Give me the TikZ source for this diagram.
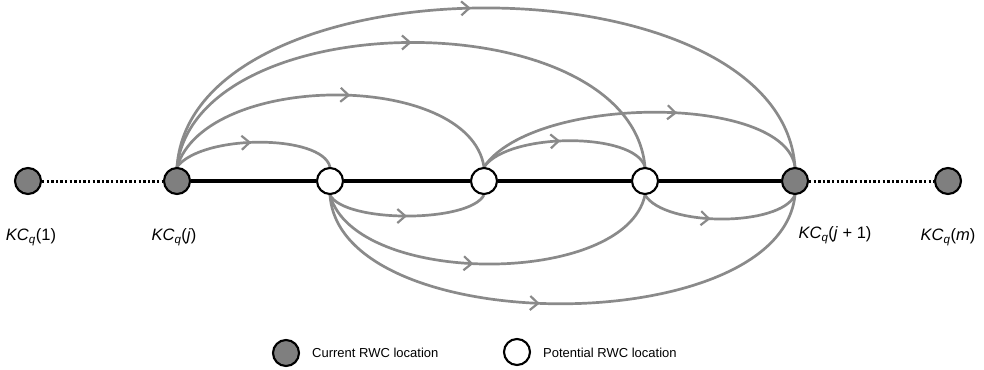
\documentclass[tikz,border=0pt]{standalone}
\usepackage{fontspec}
\setmainfont{Liberation Sans}
\usetikzlibrary{arrows.meta,decorations.markings,backgrounds}
\definecolor{arcgray}{HTML}{8A8A8A}
\definecolor{nodegray}{HTML}{7F7F7F}
\newcommand{\kcname}[1]{\textit{KC}\textsubscript{\textit{q}}(#1)}
\begin{document}
\begin{tikzpicture}[x=1pt,y=-1pt,
  cur/.style={circle, draw=black, fill=nodegray, line width=2.1pt, minimum size=26pt, inner sep=0pt},
  pot/.style={circle, draw=black, fill=white, line width=2.1pt, minimum size=26pt, inner sep=0pt},
  chain/.style={draw=black, line width=3.2pt},
  dots/.style={draw=black, line width=3pt, dash pattern=on 2.4pt off 2.2pt},
  flow/.style={draw=arcgray, line width=2.7pt},
  arrowat/.style={postaction={decorate, decoration={markings,
      mark=at position #1 with {\arrow[arcgray, line width=2.2pt]{Straight Barb[length=8pt,width=14pt]}}}}},
  lab/.style={font=\fontsize{16.5}{18}\selectfont},
  legtext/.style={font=\fontsize{13}{15}\selectfont, anchor=west, inner sep=0pt}]
\useasboundingbox (0,0) rectangle (984,369);

% locations along the route
\node[cur] (k1)  at (28,181)  {};
\node[cur] (kj)  at (177,181) {};
\node[pot] (p1)  at (330,181) {};
\node[pot] (p2)  at (484,181) {};
\node[pot] (p3)  at (645,181) {};
\node[cur] (kj1) at (795,181) {};
\node[cur] (km)  at (948,181) {};

% location labels
\node[lab] (l1)  at (31,237)  {\kcname{1}};
\node[lab] (lj)  at (174,237) {\kcname{\textit{j}}};
\node[lab] (lj1) at (835,235) {\kcname{\textit{j} + 1}};
\node[lab] (lm)  at (948,237) {\kcname{\textit{m}}};

\begin{pgfonlayer}{background}
  % route segments
  \draw[dots] (k1) -- (kj);
  \draw[chain] (kj) -- (p1) -- (p2) -- (p3) -- (kj1);
  \draw[dots] (kj1) -- (km);

  % transitions above the route
  \draw[flow, arrowat=0.48] (kj.north) .. controls +(25,-33) and +(-8,-33) .. (p1.north);
  \draw[flow, arrowat=0.55] (kj.north) .. controls +(30,-96) and +(-15,-96) .. (p2.north);
  \draw[flow, arrowat=0.5]  (kj.north) .. controls +(20,-166) and +(-15,-166) .. (p3.north);
  \draw[flow, arrowat=0.48] (kj.north) .. controls +(15,-212) and +(-15,-212) .. (kj1.north);
  \draw[flow, arrowat=0.47] (p2.north) .. controls +(25,-35) and +(-10,-35) .. (p3.north);
  \draw[flow, arrowat=0.6]  (p2.north) .. controls +(50,-73) and +(-10,-73) .. (kj1.north);

  % transitions below the route
  \draw[flow, arrowat=0.5]  (p1.south) .. controls +(15,28) and +(-15,28) .. (p2.south);
  \draw[flow, arrowat=0.46] (p1.south) .. controls +(25,92) and +(-20,92) .. (p3.south);
  \draw[flow, arrowat=0.46] (p1.south) .. controls +(10,145) and +(-15,145) .. (kj1.south);
  \draw[flow, arrowat=0.44] (p3.south) .. controls +(20,32) and +(-15,32) .. (kj1.south);
\end{pgfonlayer}

% legend
\node[cur] (lgc) at (286,353) {};
\node[legtext] (lgct) at (312,353) {Current RWC location};
\node[pot] (lgp) at (517,352) {};
\node[legtext] (lgpt) at (543,353) {Potential RWC location};
\end{tikzpicture}
\end{document}
